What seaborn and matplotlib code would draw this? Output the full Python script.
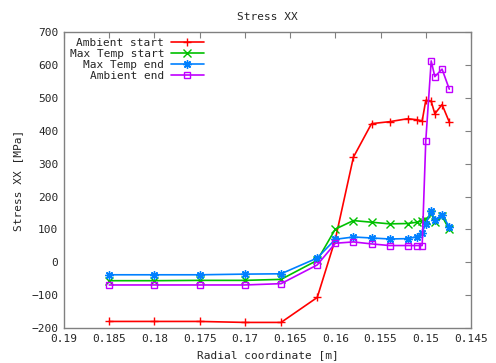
import pandas as pd
import matplotlib.pyplot as plt
import seaborn as sns

sns.set_style('white')
plt.rcParams['font.family'] = ['DejaVu Sans Mono']
plt.rcParams['font.size'] = 8
plt.rcParams['xtick.direction'] = 'in'
plt.rcParams['ytick.direction'] = 'in'

# radial positions (x) shared by all four series
radius = [0.185, 0.18, 0.175, 0.17, 0.166, 0.162, 0.16, 0.158, 0.156, 0.154,
          0.152, 0.151, 0.1504, 0.15, 0.1494, 0.149, 0.1482, 0.1474]

ambient_start = [-180, -180, -180, -183, -183, -107, 70, 320, 422, 428,
                 437, 434, 430, 493, 490, 452, 480, 427]
max_temp_start = [-56, -56, -55, -55, -52, 6, 101, 127, 122, 117,
                  118, 122, 126, 130, 148, 124, 140, 100]
max_temp_end = [-38, -38, -38, -36, -35, 13, 70, 77, 74, 71,
                72, 78, 90, 118, 155, 128, 145, 108]
ambient_end = [-69, -69, -69, -69, -65, -8, 58, 62, 56, 51,
               51, 51, 51, 370, 613, 565, 588, 527]

series = ['Ambient start', 'Max Temp start', 'Max Temp end', 'Ambient end']
values = [ambient_start, max_temp_start, max_temp_end, ambient_end]
colors = ['#ff0000', '#00c000', '#0080ff', '#c000ff']
markers = ['+', 'x', (8, 2, 0), 's']

fig = plt.figure(figsize=(4.96, 3.63), dpi=100)
ax = fig.add_axes([0.129, 0.0964, 0.8206, 0.8146])

for name, vals, col, mk in zip(series, values, colors, markers):
    df = pd.DataFrame({'r': radius, 's': vals})
    kw = dict(markerfacecolor='none') if mk == 's' else {}
    sns.lineplot(x='r', y='s', data=df, ax=ax, color=col, marker=mk,
                 markersize=6 if mk != 's' else 5, markeredgecolor=col,
                 markeredgewidth=1, linewidth=1.2, label=name, **kw)

ax.set_xlim(0.19, 0.145)
ax.set_ylim(-200, 700)
ax.set_xticks([0.19, 0.185, 0.18, 0.175, 0.17, 0.165, 0.16, 0.155, 0.15, 0.145])
ax.set_xticklabels(['0.19', '0.185', '0.18', '0.175', '0.17', '0.165', '0.16', '0.155', '0.15', '0.145'])
ax.set_yticks(range(-200, 701, 100))
ax.tick_params(top=True, right=True, length=4, color='#808080', pad=4)
for sp in ax.spines.values():
    sp.set_color('#808080')
    sp.set_linewidth(1)

ax.set_title('Stress XX', fontsize=8, pad=9)
ax.set_xlabel('Radial coordinate [m]', labelpad=5)
ax.set_ylabel('Stress XX [MPa]', labelpad=6)

ax.legend(loc='upper left', markerfirst=False, frameon=False, handlelength=3,
          labelspacing=0.1, borderaxespad=0.1, handletextpad=0.6,
          bbox_to_anchor=(0.0, 1.0))

fig.savefig('out.png', dpi=100)
